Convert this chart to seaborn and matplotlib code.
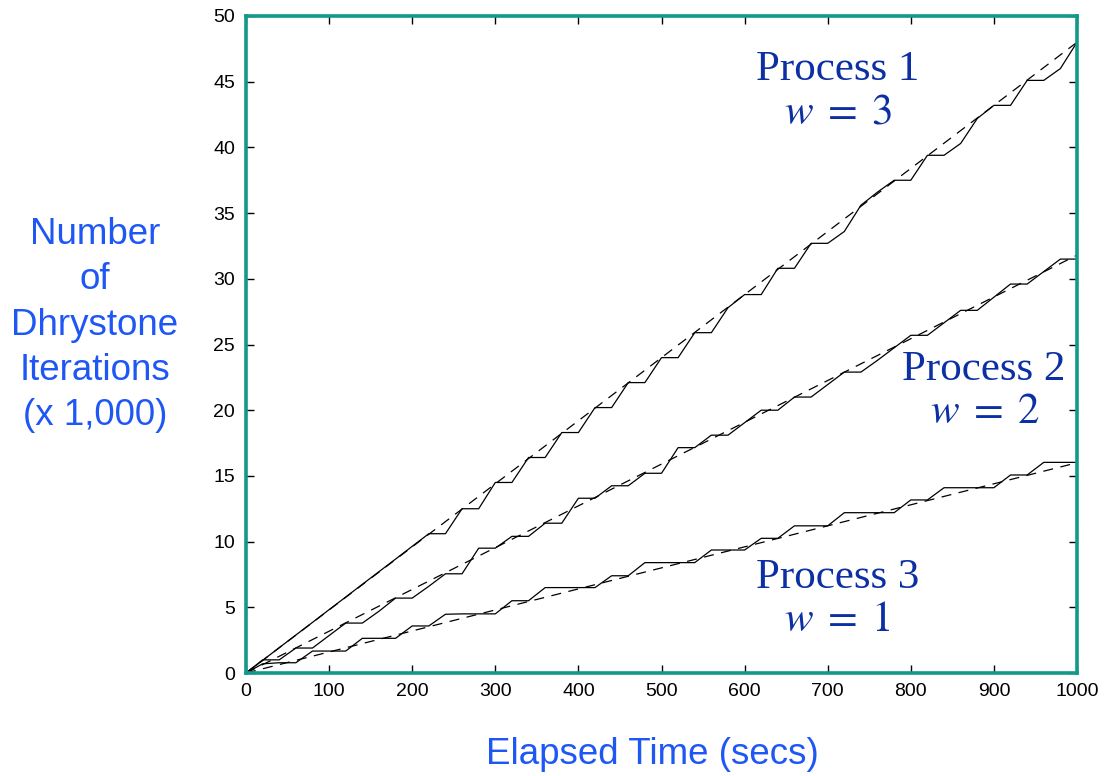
import numpy as np
import pandas as pd
import matplotlib
matplotlib.use("Agg")
import matplotlib.pyplot as plt
import seaborn as sns

# ---- data ----
time_s = list(range(0, 1001, 20))

process1 = [0.0, 0.96, 1.93, 2.89, 3.85, 4.82, 5.78, 6.75, 7.71, 8.67, 9.64, 10.6,
            10.6, 12.5, 12.5, 14.5, 14.5, 16.4, 16.4, 18.3, 18.3, 20.2, 20.2, 22.1,
            22.1, 24.0, 24.0, 25.9, 25.9, 27.8, 28.8, 28.8, 30.8, 30.8, 32.7, 32.7,
            33.6, 35.6, 36.6, 37.5, 37.5, 39.4, 39.4, 40.3, 42.2, 43.2, 43.2, 45.1,
            45.1, 46.0, 48.0]

process2 = [0.0, 1.0, 1.0, 1.9, 1.9, 2.85, 3.8, 3.8, 4.7, 5.7, 5.7, 6.6,
            7.55, 7.55, 9.5, 9.5, 10.4, 10.4, 11.4, 11.4, 13.3, 13.3, 14.25, 14.25,
            15.2, 15.2, 17.15, 17.15, 18.1, 18.1, 19.05, 20.0, 20.0, 21.0, 21.0, 21.95,
            22.9, 22.9, 23.8, 24.75, 25.7, 25.7, 26.65, 27.6, 27.6, 28.6, 29.6, 29.6,
            30.55, 31.5, 31.5]

process3 = [0.0, 0.7, 0.78, 0.78, 1.67, 1.67, 1.67, 2.64, 2.64, 2.64, 3.58, 3.58,
            4.47, 4.5, 4.5, 4.5, 5.5, 5.5, 6.5, 6.5, 6.5, 6.5, 7.4, 7.4,
            8.4, 8.4, 8.4, 8.4, 9.36, 9.36, 9.36, 10.25, 10.25, 11.2, 11.2, 11.2,
            12.2, 12.2, 12.2, 12.2, 13.17, 13.17, 14.1, 14.1, 14.1, 14.1, 15.07, 15.07,
            16.03, 16.03, 16.03]

ideal_t = [0, 1000]
ideal1 = [0.0, 48.0]
ideal2 = [0.0, 31.8]
ideal3 = [0.0, 16.0]

x_ticks = [0, 100, 200, 300, 400, 500, 600, 700, 800, 900, 1000]
y_ticks = [0, 5, 10, 15, 20, 25, 30, 35, 40, 45, 50]

labels = [("Process 1", r"$w\;=\;3$"), ("Process 2", r"$w\;=\;2$"), ("Process 3", r"$w\;=\;1$")]

# ---- style ----
sns.set_theme(style="white")
plt.rcParams["font.family"] = ["Liberation Sans", "DejaVu Sans"]
plt.rcParams["mathtext.fontset"] = "stix"

teal = "#12998a"
blue_axis = "#1f57f5"
blue_ann = "#0c2fa3"

fig = plt.figure(figsize=(11.06, 7.76), dpi=100)
ax = fig.add_axes([246 / 1106, 1 - 673 / 776, (1077 - 246) / 1106, (673 - 16) / 776])

actual = pd.DataFrame({
    "t": time_s * 3,
    "v": process1 + process2 + process3,
    "proc": ["P1"] * len(time_s) + ["P2"] * len(time_s) + ["P3"] * len(time_s),
})
ideal = pd.DataFrame({
    "t": ideal_t * 3,
    "v": ideal1 + ideal2 + ideal3,
    "proc": ["P1"] * 2 + ["P2"] * 2 + ["P3"] * 2,
})

pal = {"P1": "black", "P2": "black", "P3": "black"}
sns.lineplot(data=ideal, x="t", y="v", hue="proc", palette=pal, estimator=None,
             sort=False, lw=0.9, linestyle=(0, (8, 6)), legend=False, ax=ax)
sns.lineplot(data=actual, x="t", y="v", hue="proc", palette=pal, estimator=None,
             sort=False, lw=0.9, legend=False, ax=ax)

ax.set_xlim(0, 1000)
ax.set_ylim(0, 50)
ax.set_xticks(x_ticks)
ax.set_yticks(y_ticks)
ax.set_xlabel("")
ax.set_ylabel("")
ax.tick_params(direction="in", length=6, width=1, color="black", labelsize=14,
               labelcolor="black", top=True, right=True, bottom=True, left=True)
ax.tick_params(axis="y", pad=8)
ax.tick_params(axis="x", pad=7)
for sp in ax.spines.values():
    sp.set_visible(True)
    sp.set_color(teal)
    sp.set_linewidth(2.6)

# axis titles
fig.text(652 / 1106, 1 - 755 / 776, "Elapsed Time (secs)", color=blue_axis,
         fontsize=26.5, ha="center", va="center")
fig.text(95 / 1106, 1 - 325 / 776, "Number\nof\nDhrystone\nIterations\n(x 1,000)",
         color=blue_axis, fontsize=26.5, ha="center", va="center",
         multialignment="center", linespacing=1.38)

# annotations
ann_pos = [(838, 70, 838, 112), (984, 370, 985, 412), (838, 578, 837, 620)]
for (name, wtxt), (x1, y1, x2, y2) in zip(labels, ann_pos):
    fig.text(x1 / 1106, 1 - y1 / 776, name, color=blue_ann, fontsize=31,
             family=["Liberation Serif", "DejaVu Serif"], ha="center", va="center")
    fig.text(x2 / 1106, 1 - y2 / 776, wtxt, color=blue_ann, fontsize=31,
             ha="center", va="center")

fig.savefig("out.png", dpi=100)
